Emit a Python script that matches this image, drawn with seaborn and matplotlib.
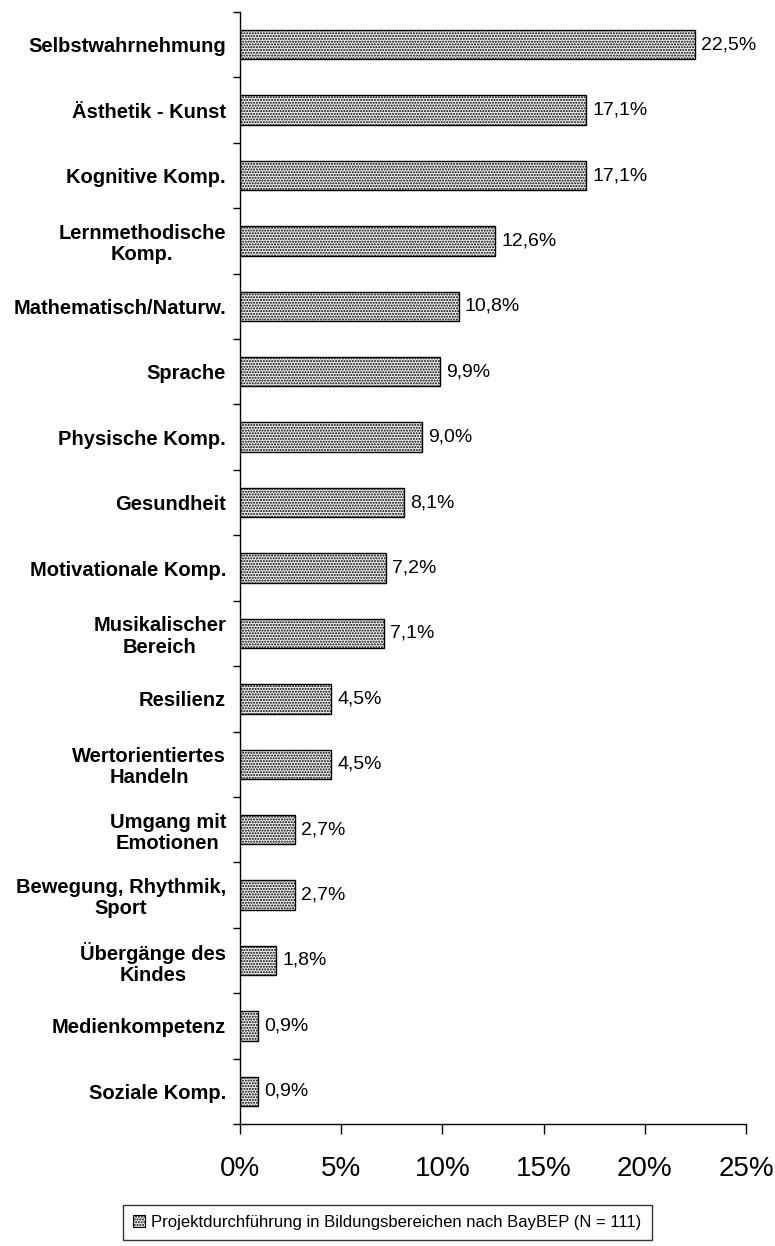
import matplotlib
matplotlib.use("Agg")
import matplotlib.pyplot as plt
import seaborn as sns
import pandas as pd
import matplotlib.patches as mpatches

categories = ["Selbstwahrnehmung", "Ästhetik - Kunst", "Kognitive Komp.",
              "Lernmethodische\nKomp.", "Mathematisch/Naturw.", "Sprache",
              "Physische Komp.", "Gesundheit", "Motivationale Komp.",
              "Musikalischer\nBereich", "Resilienz", "Wertorientiertes\nHandeln",
              "Umgang mit\nEmotionen", "Bewegung, Rhythmik,\nSport",
              "Übergänge des\nKindes", "Medienkompetenz", "Soziale Komp."]
values = [22.5, 17.1, 17.1, 12.6, 10.8, 9.9, 9.0, 8.1, 7.2, 7.1, 4.5, 4.5,
          2.7, 2.7, 1.8, 0.9, 0.9]
value_labels = ["22,5%", "17,1%", "17,1%", "12,6%", "10,8%", "9,9%", "9,0%",
                "8,1%", "7,2%", "7,1%", "4,5%", "4,5%", "2,7%", "2,7%",
                "1,8%", "0,9%", "0,9%"]
xticks = [0, 5, 10, 15, 20, 25]
xtick_labels = ["0%", "5%", "10%", "15%", "20%", "25%"]
legend_label = "Projektdurchführung in Bildungsbereichen nach BayBEP (N = 111)"

sns.set_style("white")
plt.rcParams['font.family'] = ['Liberation Sans', 'DejaVu Sans']
plt.rcParams['text.color'] = 'black'
plt.rcParams['xtick.color'] = 'black'
plt.rcParams['ytick.color'] = 'black'
plt.rcParams['xtick.labelcolor'] = 'black'
plt.rcParams['ytick.labelcolor'] = 'black'
plt.rcParams['hatch.color'] = '#6e6e6e'
plt.rcParams['hatch.linewidth'] = 1.0

df = pd.DataFrame({"cat": categories, "val": values})

fig = plt.figure(figsize=(7.75, 12.46), dpi=100)
ax = fig.add_axes([240/775, 1 - 1124/1246, (746-240)/775, (1124-12)/1246])

sns.barplot(data=df, y="cat", x="val", orient="h", ax=ax, width=0.45,
            color="#eeeeee", edgecolor="black", linewidth=1.0)
for p in ax.patches:
    p.set_hatch("......")
    p.set_facecolor("#eeeeee")

n = len(categories)
ax.set_xlim(0, 25)
ax.set_ylim(n - 0.5, -0.5)
ax.set_xticks(xticks)
ax.set_xticklabels(xtick_labels, fontsize=20)
ax.set_yticks(range(n))
ax.set_yticklabels(categories, fontsize=14.5, fontweight="bold",
                   multialignment="center", linespacing=1.15)
ax.tick_params(axis='y', length=0, pad=10)
ax.set_yticks([i - 0.5 for i in range(n + 1)], minor=True)
ax.tick_params(axis='y', which='minor', length=5, width=1, direction='out', left=True)
ax.tick_params(axis='x', length=7.2, width=1, direction='out', bottom=True, pad=16)
ax.set_xlabel("")
ax.set_ylabel("")
for s in ["top", "right"]:
    ax.spines[s].set_visible(False)
for s in ["left", "bottom"]:
    ax.spines[s].set_color("black")
    ax.spines[s].set_linewidth(1.0)

for i, (v, lab) in enumerate(zip(values, value_labels)):
    ax.text(v + 0.3, i, lab, va="center", ha="left", fontsize=14, color="black")

handle = mpatches.Patch(facecolor="#eeeeee", edgecolor="black", hatch="......", linewidth=0.8)
leg = fig.legend([handle], [legend_label], loc="upper left",
                 bbox_to_anchor=(123/775, 1 - 1205/1246), fontsize=12,
                 frameon=True, fancybox=False, handlelength=0.7, handleheight=0.7,
                 handletextpad=0.4, borderpad=0.6, borderaxespad=0)
leg.get_frame().set_edgecolor("black")
leg.get_frame().set_linewidth(1.0)
for t in leg.get_texts():
    t.set_color("black")

fig.savefig("out.png", dpi=100)
